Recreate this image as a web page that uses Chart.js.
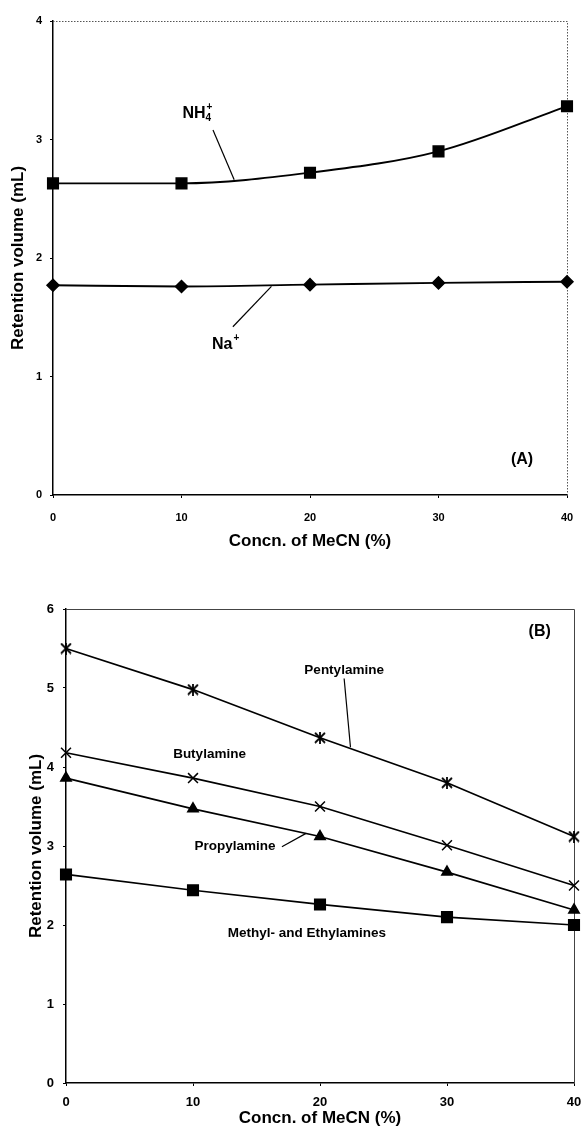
<!DOCTYPE html>
<html lang="en">
<head>
    <meta charset="UTF-8">
    <title>Retention volume vs. MeCN</title>
    <style>
        body {
            margin: 0;
            padding: 0;
            background-color: #fff;
            width: 583px;
            height: 1126px;
            overflow: hidden;
        }

        .panel {
            position: absolute;
            left: 0;
        }

        #panelA { top: 0; }
        #panelB { top: 560px; }
    </style>
</head>
<body>

    <div class="panel" id="panelA"><canvas id="chartA" width="583" height="560"></canvas></div>
    <div class="panel" id="panelB"><canvas id="chartB" width="583" height="566"></canvas></div>

    <script src="https://cdn.jsdelivr.net/npm/chart.js"></script>

    <script>
        // MeCN concentration (%)
        const concn = [0, 10, 20, 30, 40];

        // panel A: inorganic cations
        const nh4 = [2.63, 2.63, 2.72, 2.90, 3.28];
        const na = [1.77, 1.76, 1.775, 1.79, 1.80];

        // panel B: alkylamines
        const pentyl = [5.50, 4.98, 4.37, 3.80, 3.12];
        const butyl = [4.18, 3.86, 3.50, 3.01, 2.50];
        const propyl = [3.86, 3.47, 3.12, 2.67, 2.19];
        const methylEthyl = [2.64, 2.44, 2.26, 2.10, 2.00];

        const yMaxA = 4;
        const yMaxB = 6;

        const FONT = "'Liberation Sans', Arial, sans-serif";

        function pts(ys) {
            return concn.map((x, i) => ({ x: x, y: ys[i] }));
        }

        // asterisk marker (X with vertical bar)
        function asterisk(size) {
            let c = document.createElement('canvas');
            c.width = size;
            c.height = size;
            let g = c.getContext('2d');
            g.strokeStyle = '#000';
            g.lineWidth = 1.8;
            g.beginPath();
            g.moveTo(1, 1); g.lineTo(size - 1, size - 1);
            g.moveTo(size - 1, 1); g.lineTo(1, size - 1);
            g.moveTo(size / 2, 0); g.lineTo(size / 2, size);
            g.stroke();
            return c;
        }

        // text labels + leader lines, placed in data units
        const notesA = [
            { text: 'NH', sub: '4', sup: '+', x: 11.2, y: 3.22, size: 16 },
            { text: 'Na', sup: '+', x: 13.4, y: 1.27, size: 16 },
            { text: '(A)', x: 36.5, y: 0.30, size: 16 }
        ];
        const leadersA = [
            [12.45, 3.08, 14.1, 2.66],
            [14.0, 1.42, 17.0, 1.76]
        ];
        const notesB = [
            { text: '(B)', x: 37.3, y: 5.71, size: 16 },
            { text: 'Pentylamine', x: 21.9, y: 5.22, size: 13.5 },
            { text: 'Butylamine', x: 11.3, y: 4.16, size: 13.5 },
            { text: 'Propylamine', x: 13.3, y: 3.0, size: 13.5 },
            { text: 'Methyl- and Ethylamines', x: 18.96, y: 1.90, size: 13.5 }
        ];
        const leadersB = [
            [21.9, 5.12, 22.4, 4.25],
            [17.0, 2.99, 18.9, 3.16]
        ];

        function notesPlugin(notes, leaders) {
            return {
                id: 'notes',
                afterDatasetsDraw(chart) {
                    let ctx = chart.ctx;
                    let sx = chart.scales.x, sy = chart.scales.y;
                    ctx.save();
                    ctx.strokeStyle = '#000';
                    ctx.lineWidth = 1.2;
                    leaders.forEach(l => {
                        ctx.beginPath();
                        ctx.moveTo(sx.getPixelForValue(l[0]), sy.getPixelForValue(l[1]));
                        ctx.lineTo(sx.getPixelForValue(l[2]), sy.getPixelForValue(l[3]));
                        ctx.stroke();
                    });
                    ctx.fillStyle = '#000';
                    ctx.textBaseline = 'middle';
                    notes.forEach(n => {
                        let px = sx.getPixelForValue(n.x);
                        let py = sy.getPixelForValue(n.y);
                        ctx.font = 'bold ' + n.size + 'px ' + FONT;
                        let w = ctx.measureText(n.text).width;
                        let small = 'bold ' + Math.round(n.size * 0.65) + 'px ' + FONT;
                        let extra = 0;
                        if (n.sub || n.sup) {
                            ctx.font = small;
                            extra = Math.max(ctx.measureText(n.sub || '').width, ctx.measureText(n.sup || '').width);
                        }
                        let left = px - (w + extra) / 2;
                        ctx.textAlign = 'left';
                        ctx.font = 'bold ' + n.size + 'px ' + FONT;
                        ctx.fillText(n.text, left, py);
                        ctx.font = small;
                        if (n.sub) ctx.fillText(n.sub, left + w, py + n.size * 0.32);
                        if (n.sup) ctx.fillText(n.sup, left + w + 1, py - n.size * 0.38);
                    });
                    ctx.restore();
                }
            };
        }

        function framePlugin(dash, color) {
            return {
                id: 'frame',
                beforeDatasetsDraw(chart) {
                    let a = chart.chartArea;
                    let ctx = chart.ctx;
                    ctx.save();
                    ctx.strokeStyle = color;
                    ctx.lineWidth = 1;
                    ctx.setLineDash(dash);
                    ctx.beginPath();
                    ctx.moveTo(a.left, a.top + 0.5);
                    ctx.lineTo(a.right + 0.5, a.top + 0.5);
                    ctx.lineTo(a.right + 0.5, a.bottom);
                    ctx.stroke();
                    ctx.restore();
                }
            };
        }

        function scales(opt) {
            return {
                x: {
                    type: 'linear',
                    min: 0,
                    max: 40,
                    afterFit: s => {
                        s.height = opt.xHeight;
                        s.paddingLeft = 0;
                        s.paddingRight = 0;
                    },
                    ticks: {
                        stepSize: 10,
                        color: '#000',
                        padding: opt.xTickPad,
                        font: { family: FONT, size: opt.tickSize, weight: 'bold' }
                    },
                    grid: { display: true, drawOnChartArea: false, tickLength: 3, color: '#000' },
                    border: { display: true, color: '#000', width: 1.5 },
                    title: {
                        display: true,
                        text: 'Concn. of MeCN (%)',
                        color: '#000',
                        padding: { top: 0, bottom: opt.xTitlePad },
                        font: { family: FONT, size: 17, weight: 'bold', lineHeight: opt.xTitleLH }
                    }
                },
                y: {
                    min: 0,
                    max: opt.yMax,
                    afterFit: s => {
                        s.width = opt.yWidth;
                        s.paddingTop = 0;
                        s.paddingBottom = 0;
                    },
                    ticks: {
                        stepSize: 1,
                        color: '#000',
                        padding: opt.yTickPad,
                        font: { family: FONT, size: opt.tickSize, weight: 'bold' }
                    },
                    grid: { display: true, drawOnChartArea: false, tickLength: 3, color: '#000' },
                    border: { display: true, color: '#000', width: 1.5 },
                    title: {
                        display: true,
                        text: 'Retention volume (mL)',
                        color: '#000',
                        padding: { top: opt.yTitlePad, bottom: 0 },
                        font: { family: FONT, size: 17, weight: 'bold' }
                    }
                }
            };
        }

        function series(data, style, radius, extra) {
            return Object.assign({
                data: pts(data),
                borderColor: '#000',
                backgroundColor: '#000',
                borderWidth: 1.7,
                pointStyle: style,
                pointRadius: radius,
                pointHoverRadius: radius,
                pointBackgroundColor: '#000',
                pointBorderColor: '#000',
                pointBorderWidth: 1.5,
                tension: 0,
                clip: false
            }, extra || {});
        }

        new Chart(document.getElementById('chartA'), {
            type: 'line',
            data: {
                datasets: [
                    series(nh4, 'rect', 7.5, { cubicInterpolationMode: 'monotone', borderWidth: 1.9 }),
                    series(na, 'rectRot', 6, { cubicInterpolationMode: 'monotone', borderWidth: 1.9 })
                ]
            },
            options: {
                responsive: false,
                animation: false,
                devicePixelRatio: 1,
                layout: { padding: { top: 21, right: 16, left: 0, bottom: 0 } },
                plugins: { legend: { display: false }, tooltip: { enabled: false } },
                scales: scales({ yMax: yMaxA, xHeight: 65, yWidth: 53, tickSize: 11, xTickPad: 13, yTickPad: 8, xTitlePad: 8, xTitleLH: 1.2, yTitlePad: 8 })
            },
            plugins: [framePlugin([1.5, 1.5], '#555'), notesPlugin(notesA, leadersA)]
        });

        new Chart(document.getElementById('chartB'), {
            type: 'line',
            data: {
                datasets: [
                    series(pentyl, asterisk(12), 6),
                    series(butyl, 'crossRot', 7),
                    series(propyl, 'triangle', 6),
                    series(methylEthyl, 'rect', 7.5)
                ]
            },
            options: {
                responsive: false,
                animation: false,
                devicePixelRatio: 1,
                layout: { padding: { top: 49, right: 7, left: 0, bottom: 0 } },
                plugins: { legend: { display: false }, tooltip: { enabled: false } },
                scales: scales({ yMax: yMaxB, xHeight: 43, yWidth: 66, tickSize: 13, xTickPad: 9, yTickPad: 9, xTitlePad: 0, xTitleLH: 0.95, yTitlePad: 26 })
            },
            plugins: [framePlugin([], '#444'), notesPlugin(notesB, leadersB)]
        });
    </script>
</body>
</html>
